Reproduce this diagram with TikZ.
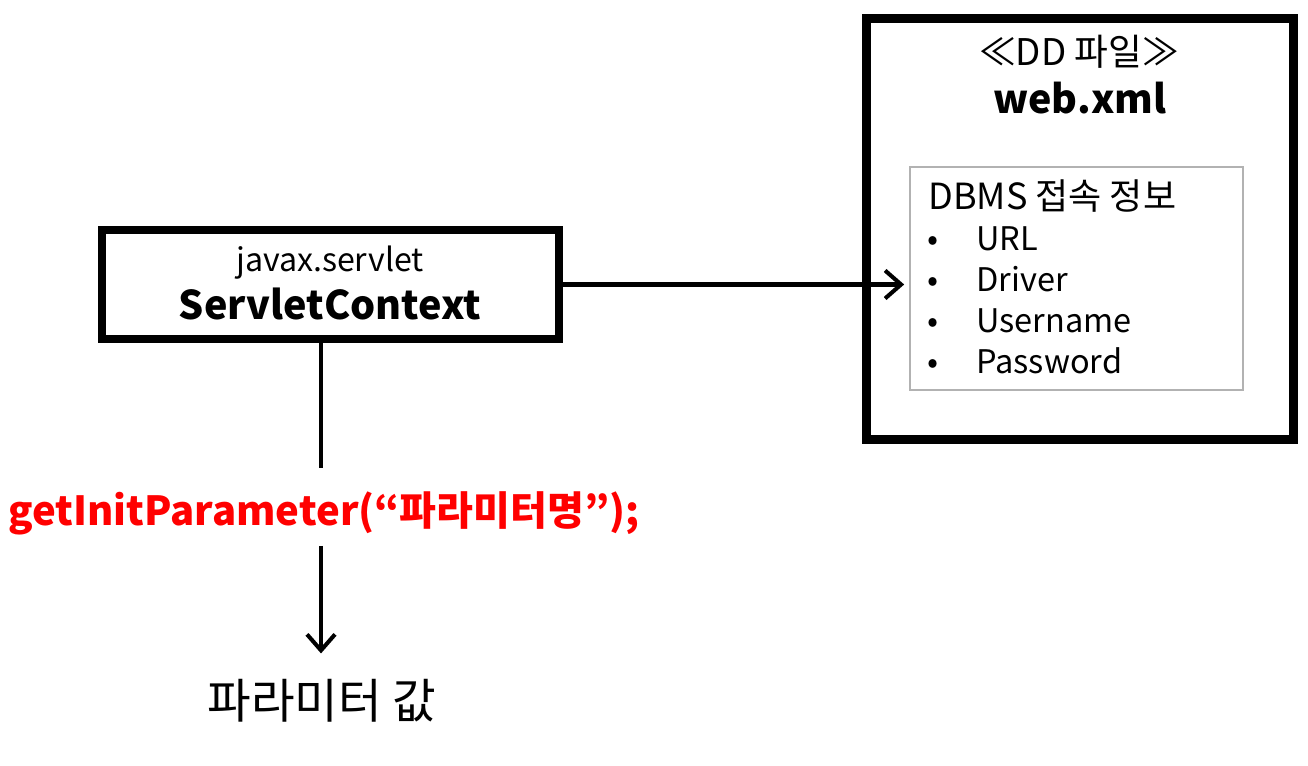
\documentclass[tikz,border=0pt]{standalone}
\usepackage{fontspec}
\setmainfont{Noto Sans CJK KR}
\usepackage{tikz}
\usetikzlibrary{arrows.meta}
\tikzstyle{block} = [rectangle, draw=black, line width=4.5pt, minimum width=9.14cm, minimum height=2.18cm]
\tikzstyle{ddbox} = [rectangle, draw=black, line width=5.1pt, minimum width=8.56cm, minimum height=8.44cm]
\tikzstyle{infobox} = [rectangle, draw=black!30, line width=1pt, minimum width=6.66cm, minimum height=4.46cm]
\tikzstyle{textlabel} = [inner sep=0pt, anchor=base]
\tikzstyle{listitem} = [inner sep=0pt, anchor=base west, font=\fontsize{18.5}{22}\selectfont]
\tikzstyle{bullet} = [inner sep=0pt, anchor=base, font=\fontsize{18.5}{22}\selectfont]
\tikzstyle{arrow} = [line width=2.3pt, -{Straight Barb[length=3.2mm, width=5.6mm]}]
\tikzstyle{link} = [line width=2.3pt]

\begin{document}
\begin{tikzpicture}[x=0.02cm, y=-0.02cm]
\useasboundingbox (0,0) rectangle (1308,766);
% Box principali
\node (ctx) [block] at (330.5,284.5) {};
\node (ddfile) [ddbox] at (1080,229) {};
\node (dbinfo) [infobox] at (1076.5,278.5) {};

% Testi nei box
\node (pkg) [textlabel, font=\fontsize{18.3}{21}\selectfont] at (330,272) {javax.servlet};
\node (cls) [textlabel, font=\bfseries\fontsize{22.5}{26}\selectfont] at (330,320) {ServletContext};
\node (stereo) [textlabel, font=\fontsize{20.9}{24}\selectfont] at (1079,66) {≪DD 파일≫};
\node (webxml) [textlabel, font=\bfseries\fontsize{22.4}{26}\selectfont] at (1080,114) {web.xml};
\node (dbms) [listitem, font=\fontsize{20.5}{24}\selectfont] at (928,210) {DBMS 접속 정보};
\node (b1) [bullet] at (933,251) {•};
\node (b2) [bullet] at (933,292) {•};
\node (b3) [bullet] at (933,333) {•};
\node (b4) [bullet] at (933,374) {•};
\node (url) [listitem] at (976,251) {URL};
\node (driver) [listitem] at (976,292) {Driver};
\node (user) [listitem] at (976,333) {Username};
\node (pass) [listitem] at (976,374) {Password};

% Chiamata e risultato
\node (param) [textlabel, text=red, font=\bfseries\fontsize{22.8}{27}\selectfont] at (324,525) {getInitParameter(“파라미터명”);};
\node (value) [textlabel, font=\fontsize{27}{31}\selectfont] at (322,718) {파라미터 값};

% Frecce
\draw [arrow, shorten >=0.1cm] (ctx.east) -- (ctx.east -| dbinfo.west);
\draw [link, shorten >=0.45cm] (ctx.south -| 321,0) -- (param.north -| 321,0);
\draw [arrow, shorten <=0.22cm, shorten >=0.5cm] (param.south -| 321,0) -- (value.north -| 321,0);
\end{tikzpicture}
\end{document}
